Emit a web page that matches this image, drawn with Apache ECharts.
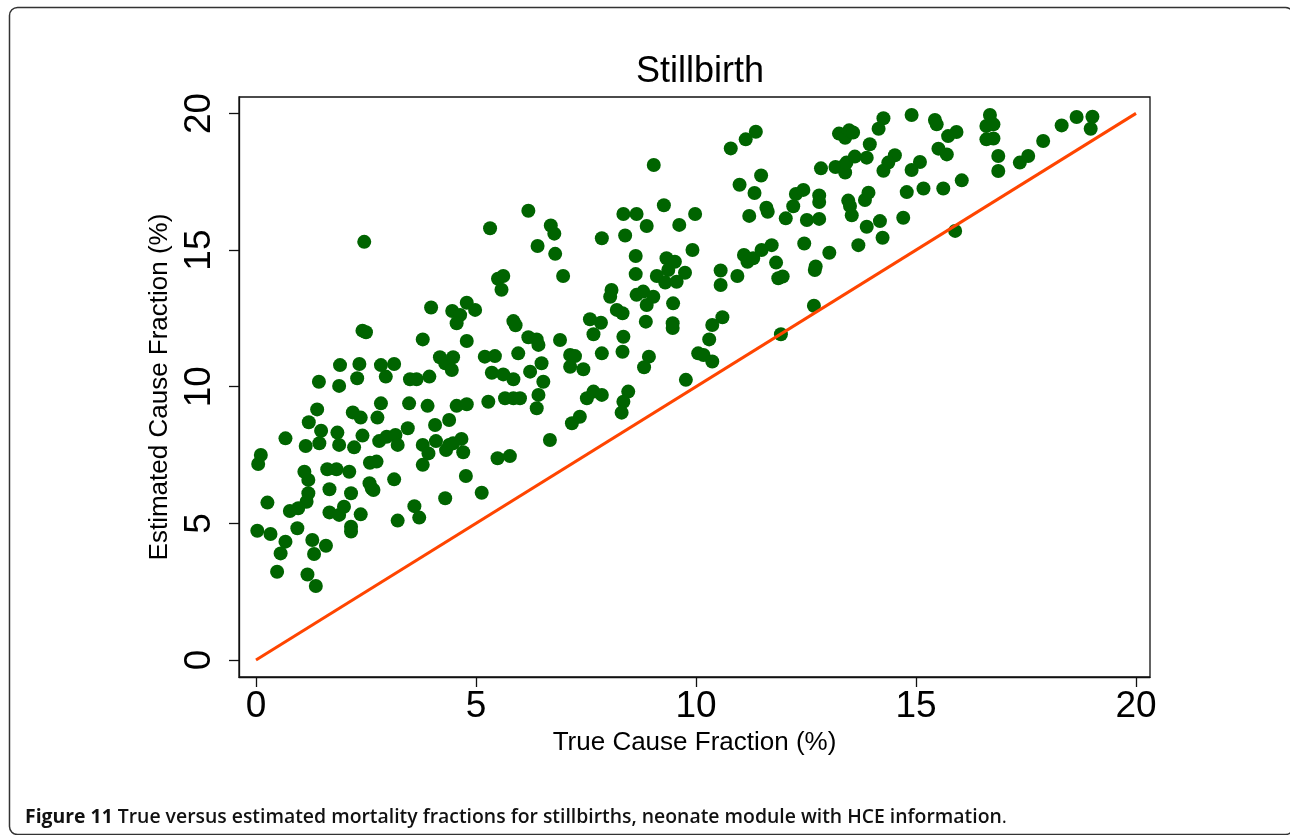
<!DOCTYPE html>
<html lang="en">

<head>
    <meta charset="UTF-8">
    <title>Stillbirth</title>
    <style>
        html, body { margin: 0; padding: 0; background: #fff; }
        #root { width: 1290px; height: 835px; }
    </style>
</head>

<body>
    <div id="root"></div>
    <script src="https://cdn.jsdelivr.net/npm/echarts@6/dist/echarts.min.js"></script>
    <script>
        // true cause fraction (%) for each simulated dataset
        var truePct = [
            2.46, 5.32, 6.19, 6.40, 6.70, 6.78, 5.50, 5.62, 5.58,
            9.04, 10.79, 11.13, 11.36, 11.48, 10.99, 11.33, 12.27, 12.44, 12.84, 12.80, 12.80, 12.21, 11.60, 9.27,
            13.17, 13.35, 13.39, 13.42, 13.25, 13.39, 13.48, 13.57, 13.46,
            14.26, 14.15, 13.95, 13.61, 13.88, 14.52, 14.37, 14.26, 14.90, 15.09, 14.90, 15.43, 15.47, 15.73, 15.92,
            15.51, 15.70, 14.79, 15.17, 15.62, 16.04, 16.68, 16.60, 16.76, 16.60, 16.76, 16.87, 16.87, 17.36, 17.55,
            17.89, 18.31, 18.65, 19.01, 18.97, 13.50, 13.54, 13.92, 13.84, 13.88, 14.18, 14.24, 13.69, 14.71, 15.89,
            6.80, 6.98, 7.86, 8.35, 8.65, 8.39, 8.88, 9.62, 9.98, 8.63, 8.63, 9.92, 9.33, 9.52, 9.37, 9.75, 9.11,
            9.30, 9.56, 8.08, 8.05, 8.65, 8.80, 9.03, 8.88, 9.48, 8.20, 8.33, 7.59, 7.84, 7.67, 8.86, 9.47, 9.47,
            6.91, 7.14, 7.25, 7.14, 7.44, 7.86, 8.35, 8.33, 8.93, 8.82, 7.52, 7.67, 7.86, 8.46, 8.35, 8.31, 7.18,
            7.36, 6.68, 9.77, 10.05, 10.17, 10.37, 10.30, 10.37, 10.60, 11.93, 12.68, 10.56, 10.56, 10.94, 11.09,
            11.17, 11.30, 11.49, 11.72, 11.82, 11.87, 11.97, 12.46, 12.70, 12.72, 13.03, 11.21, 11.63, 12.04, 12.52, 12.80,
            3.98, 4.46, 4.64, 4.56, 4.79, 4.98, 2.42, 2.50, 3.79, 4.79, 5.85, 5.90, 6.19, 6.38, 6.42, 5.96, 6.49,
            6.53, 5.20, 5.43, 5.36, 5.62, 5.85, 6.23, 6.42, 6.38, 5.28, 5.66, 5.85, 6.00, 5.49, 5.77, 4.18, 4.30,
            4.45, 4.48, 3.50, 3.65, 3.94, 1.91, 1.89, 2.35, 2.30, 2.84, 3.14, 2.95, 1.43, 2.84, 3.48, 3.90, 4.56,
            4.79, 1.39, 1.20, 2.20, 2.38, 2.76, 3.45, 4.07, 4.39, 1.48, 1.44, 1.85, 1.89, 2.23, 2.42, 2.80, 2.97,
            3.17, 3.22, 3.79, 3.92, 3.79, 4.09, 4.39, 4.67, 4.71, 4.32, 4.48, 0.67, 1.13, 0.11, 0.05, 1.10, 1.19,
            1.62, 1.83, 2.12, 2.59, 2.74, 3.14, 2.58, 2.63, 2.67, 2.16, 1.67, 4.77, 5.13, 4.30, 1.19, 1.15, 0.96,
            0.77, 0.26, 1.67, 1.89, 2.00, 2.38, 2.16, 2.16, 3.60, 3.71, 3.22, 0.03, 0.33, 0.94, 0.67, 0.56, 1.28,
            1.32, 1.59, 0.48, 1.17, 1.36
        ];
        // estimated cause fraction (%) for the same datasets
        var estPct = [
            15.30, 15.80, 16.44, 15.15, 15.90, 15.60, 13.95, 14.05, 13.55,
            18.11, 18.72, 19.05, 19.33, 17.73, 17.39, 17.09, 17.05, 17.20, 17.99, 17.00, 16.76, 16.60, 16.55, 16.64,
            18.04, 18.07, 17.84, 18.20, 19.26, 19.11, 19.38, 19.30, 16.81,
            19.82, 19.44, 18.87, 18.42, 18.38, 18.47, 18.20, 17.90, 19.94, 18.22, 17.93, 19.76, 19.60, 19.17, 19.32,
            18.71, 18.50, 17.12, 17.25, 17.25, 17.55, 19.94, 19.54, 19.60, 19.05, 19.08, 18.44, 17.89, 18.20, 18.44,
            18.99, 19.56, 19.87, 19.88, 19.44, 16.61, 16.27, 17.10, 16.83, 15.85, 16.06, 15.45, 15.18, 16.18, 15.70,
            14.86, 14.05, 15.43, 16.32, 16.32, 15.53, 15.88, 15.92, 16.32, 14.78, 14.12, 15.00, 14.70, 14.57, 14.27, 14.17, 14.05,
            13.81, 13.84, 13.54, 13.29, 13.36, 13.48, 13.29, 12.99, 13.05, 12.81, 12.69, 12.47, 12.34, 11.92, 12.38, 12.32, 12.15,
            11.71, 11.16, 11.12, 10.73, 10.64, 11.22, 11.83, 11.28, 11.10, 10.71, 9.58, 9.82, 9.70, 9.82, 9.45, 9.05, 8.66,
            8.90, 8.05, 10.25, 11.22, 11.16, 10.92, 11.73, 12.26, 12.54, 11.92, 12.96, 14.25, 13.72, 14.05, 14.82,
            14.57, 14.70, 15.00, 15.18, 14.54, 13.97, 14.03, 15.24, 14.27, 14.40, 14.90, 16.25, 16.40, 16.16, 16.10, 16.14,
            12.90, 12.77, 12.62, 12.32, 13.07, 12.81, 12.05, 11.99, 11.73, 11.67, 12.40, 12.25, 11.81, 11.73, 11.53, 11.22, 10.86,
            10.18, 11.10, 11.12, 10.51, 10.45, 10.27, 10.55, 9.70, 9.21, 9.45, 9.58, 9.58, 9.58, 7.38, 7.46, 11.08, 10.86,
            10.61, 11.08, 10.27, 10.27, 10.37, 10.79, 10.03, 10.83, 10.31, 10.79, 10.83, 10.37, 10.18, 9.39, 9.39, 9.30, 9.30,
            9.36, 9.17, 8.70, 9.06, 8.87, 8.87, 8.48, 8.60, 8.78, 8.39, 7.93, 8.32, 7.87, 7.78, 8.21, 8.01, 8.17,
            8.23, 7.87, 7.87, 7.56, 7.14, 8.01, 7.87, 8.09, 7.60, 7.68, 7.93, 8.11, 7.83, 7.50, 7.17, 6.89, 6.59,
            6.98, 6.98, 6.89, 7.22, 7.26, 6.61, 6.47, 6.28, 6.22, 6.10, 6.25, 6.73, 6.12, 5.92, 6.10, 5.79, 5.55,
            5.45, 5.76, 5.40, 5.31, 5.61, 5.33, 4.88, 4.70, 5.63, 5.21, 5.10, 4.73, 4.61, 4.82, 4.33, 3.90, 4.39,
            3.88, 4.18, 3.23, 3.13, 2.71
        ];
        var tickValues = [0, 5, 10, 15, 20];
        var identityLine = [[0, 0], [20, 20]];

        var points = truePct.map(function (v, i) { return [v, estPct[i]]; });

        var chart = echarts.init(document.getElementById('root'), null, { renderer: 'canvas' });
        var option = {
            backgroundColor: '#fff',
            animation: false,
            textStyle: { fontFamily: 'Liberation Sans, Arial, sans-serif' },
            title: {
                text: 'Stillbirth',
                left: 695,
                textAlign: 'center',
                top: 49,
                textStyle: { fontSize: 36, fontWeight: 'normal', color: '#000', fontFamily: 'Liberation Sans' }
            },
            grid: {
                left: 239,
                right: 140,
                top: 97,
                bottom: 158,
                show: true,
                borderColor: '#111',
                borderWidth: 1.3,
                backgroundColor: '#fff'
            },
            xAxis: {
                type: 'value',
                min: -0.386,
                max: 20.318,
                name: 'True Cause Fraction (%)',
                nameLocation: 'middle',
                nameGap: 52,
                nameTextStyle: { fontSize: 26, color: '#000' },
                axisLine: { onZero: false, lineStyle: { color: '#111', width: 1.3 } },
                axisTick: { length: 10, lineStyle: { color: '#111', width: 1.3 }, customValues: tickValues },
                axisLabel: { fontSize: 37, color: '#000', margin: 11, customValues: tickValues },
                splitLine: { show: false }
            },
            yAxis: {
                type: 'value',
                min: -0.622,
                max: 20.6,
                name: 'Estimated Cause Fraction (%)',
                nameLocation: 'middle',
                nameGap: 58,
                nameTextStyle: { fontSize: 26, color: '#000' },
                axisLine: { show: true, onZero: false, lineStyle: { color: '#111', width: 1.3 } },
                axisTick: { show: true, length: 10, lineStyle: { color: '#111', width: 1.3 }, customValues: tickValues },
                axisLabel: { fontSize: 37, color: '#000', rotate: 90, margin: 21, customValues: tickValues },
                splitLine: { show: false }
            },
            series: [
                {
                    type: 'scatter',
                    data: points,
                    symbol: 'circle',
                    symbolSize: 14,
                    itemStyle: { color: '#006400', opacity: 1 }
                },
                {
                    type: 'line',
                    data: identityLine,
                    symbol: 'none',
                    z: 5,
                    lineStyle: { color: '#ff4500', width: 3 }
                }
            ],
            graphic: [
                {
                    type: 'rect',
                    shape: { x: 9.5, y: 7.5, width: 1284, height: 827, r: 8 },
                    style: { fill: 'none', stroke: '#333', lineWidth: 1.5 },
                    silent: true
                },
                {
                    type: 'text',
                    left: 25,
                    top: 808,
                    style: {
                        text: '{b|Figure 11} True versus estimated mortality fractions for stillbirths, neonate module with HCE information{n|.}',
                        fontFamily: 'Open Sans',
                        fontSize: 19.4,
                        fontWeight: 600,
                        fill: '#111',
                        rich: {
                            b: { fontFamily: 'Open Sans', fontSize: 19.4, fontWeight: 'bold', fill: '#111' },
                            n: { fontFamily: 'Open Sans', fontSize: 19.4, fontWeight: 'normal', fill: '#111' }
                        }
                    }
                }
            ]
        };
        chart.setOption(option);
    </script>
</body>

</html>
